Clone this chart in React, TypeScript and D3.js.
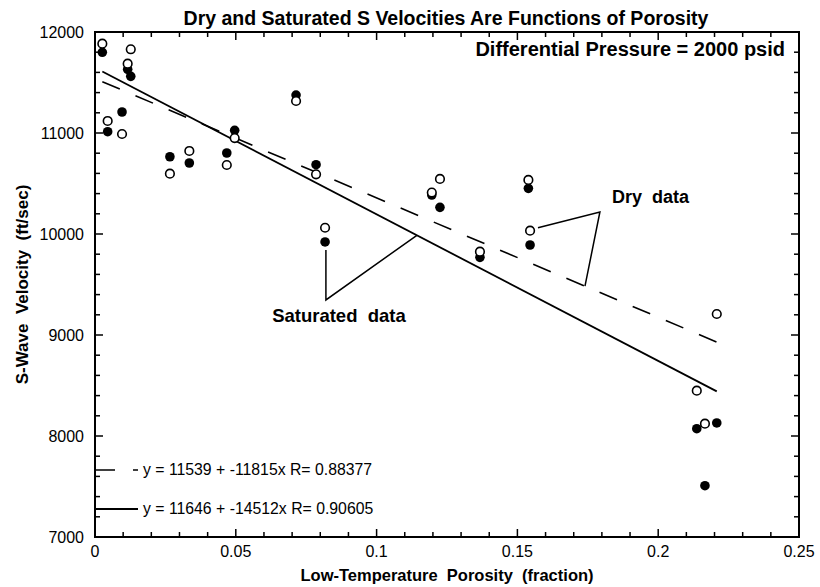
import React from 'react';
import * as d3 from 'd3';

// ---- Data ----
const porosity = [0.0026, 0.0127, 0.0116, 0.0096, 0.0045, 0.0266, 0.0335, 0.0468, 0.0496, 0.0714, 0.0785, 0.0817, 0.1196, 0.1225, 0.1367, 0.1539, 0.1545, 0.2208, 0.2137, 0.2166];
const dryVelocity = [11884, 11829, 11686, 10990, 11119, 10597, 10822, 10683, 10950, 11317, 10591, 10062, 10410, 10545, 9825, 10535, 10033, 9208, 8449, 8122];
const satVelocity = [11799, 11561, 11630, 11208, 11013, 10765, 10703, 10802, 11027, 11376, 10686, 9921, 10386, 10264, 9769, 10452, 9891, 8129, 8072, 7508];

const fitNames = ['dry', 'saturated'];
const fitIntercepts = [11539, 11646];
const fitSlopes = [-11815, -14512];
const fitR = [0.88377, 0.90605];
const fitRange = [0.0026, 0.2208];

const xTickLabels = ['0', '0.05', '0.1', '0.15', '0.2', '0.25'];
const xMajorTicks = [0, 0.05, 0.1, 0.15, 0.2, 0.25];
const yMajorTicks = [7000, 8000, 9000, 10000, 11000, 12000];

const title = 'Dry and Saturated S Velocities Are Functions of Porosity';
const subtitle = 'Differential Pressure = 2000 psid';
const xLabel = 'Low-Temperature  Porosity  (fraction)';
const yLabel = 'S-Wave  Velocity  (ft/sec)';

// annotation leader points (data space); last point lies on fit line
const dryLeader = [[0.1573, 10062], [0.1793, 10218], [0.174, null]];
const satLeader = [[0.0820, 9842], [0.0820, 9347], [0.1143, null]];
const dryText = { label: 'Dry  data', x: 0.1836, y: 10307 };
const satText = { label: 'Saturated  data', x: 0.0629, y: 9129 };

const W = 820, H = 587;
const M = { left: 95, right: 21, top: 32, bottom: 50 };
const FONT = '"Liberation Sans", Arial, Helvetica, sans-serif';

export default function App() {
  const x = d3.scaleLinear().domain([0, 0.25]).range([M.left, W - M.right]);
  const y = d3.scaleLinear().domain([7000, 12000]).range([H - M.bottom, M.top]);
  const x0 = x.range()[0], x1 = x.range()[1];
  const y0 = y.range()[0], y1 = y.range()[1];

  const xMinor = d3.range(0, 0.2501, 0.01).filter(v => !xMajorTicks.some(m => Math.abs(m - v) < 1e-6));
  const yMinor = d3.range(7000, 12001, 200).filter(v => v % 1000 !== 0);
  const MAJ = 8, MIN = 5;

  const fitLine = (i: number) => {
    const line = d3.line<number>().x(d => x(d)).y(d => y(fitIntercepts[i] + fitSlopes[i] * d));
    return line(fitRange) as string;
  };
  const leaderPath = (pts: any[], i: number) => {
    const p = pts.map(([px, py]) => [x(px), y(py === null ? fitIntercepts[i] + fitSlopes[i] * px : py)] as [number, number]);
    return d3.line()(p) as string;
  };
  const dash = '19 17';
  const fmtEq = (i: number) => `y = ${fitIntercepts[i]} + ${fitSlopes[i]}x R= ${fitR[i]}`;
  const pre = { whiteSpace: 'pre' as const };

  return (
    <svg width={W} height={H} style={{ position: 'absolute', left: 0, top: 0, background: '#fff' }} fontFamily={FONT}>
      <rect x={0} y={0} width={W} height={H} fill="#fff" />
      {/* title */}
      <text x={(x0 + x1) / 2 - 1} y={25} textAnchor="middle" fontWeight="bold" fontSize={19.5}>{title}</text>
      <text x={785} y={56} textAnchor="end" fontWeight="bold" fontSize={20}>{subtitle}</text>

      {/* frame */}
      <rect x={x0} y={y1} width={x1 - x0} height={y0 - y1} fill="none" stroke="#000" strokeWidth={2} />

      {/* x ticks bottom & top */}
      {xMajorTicks.map(v => (
        <g key={'xM' + v}>
          <line x1={x(v)} x2={x(v)} y1={y0} y2={y0 - MAJ} stroke="#000" strokeWidth={1.5} />
          <line x1={x(v)} x2={x(v)} y1={y1} y2={y1 + MAJ} stroke="#000" strokeWidth={1.5} />
        </g>
      ))}
      {xMinor.map(v => (
        <g key={'xm' + v}>
          <line x1={x(v)} x2={x(v)} y1={y0} y2={y0 - MIN} stroke="#000" strokeWidth={1.5} />
          <line x1={x(v)} x2={x(v)} y1={y1} y2={y1 + MIN} stroke="#000" strokeWidth={1.5} />
        </g>
      ))}
      {/* y ticks left & right */}
      {yMajorTicks.map(v => (
        <g key={'yM' + v}>
          <line x1={x0} x2={x0 + MAJ} y1={y(v)} y2={y(v)} stroke="#000" strokeWidth={1.5} />
          <line x1={x1} x2={x1 - MAJ} y1={y(v)} y2={y(v)} stroke="#000" strokeWidth={1.5} />
        </g>
      ))}
      {yMinor.map(v => (
        <g key={'ym' + v}>
          <line x1={x0} x2={x0 + MIN} y1={y(v)} y2={y(v)} stroke="#000" strokeWidth={1.5} />
          <line x1={x1} x2={x1 - MIN} y1={y(v)} y2={y(v)} stroke="#000" strokeWidth={1.5} />
        </g>
      ))}

      {/* tick labels */}
      {xMajorTicks.map((v, i) => (
        <text key={'xl' + v} x={x(v)} y={557} textAnchor="middle" fontSize={16}>{xTickLabels[i]}</text>
      ))}
      {yMajorTicks.map(v => (
        <text key={'yl' + v} x={84} y={y(v) + 6} textAnchor="end" fontSize={16}>{v}</text>
      ))}

      {/* axis labels */}
      <text x={(x0 + x1) / 2} y={581} textAnchor="middle" fontWeight="bold" fontSize={16.5} style={pre}>{xLabel}</text>
      <text transform={`translate(28,${(y0 + y1) / 2}) rotate(-90)`} textAnchor="middle" fontWeight="bold" fontSize={17} style={pre}>{yLabel}</text>

      {/* fit lines */}
      <path d={fitLine(0)} fill="none" stroke="#000" strokeWidth={1.6} strokeDasharray={dash} />
      <path d={fitLine(1)} fill="none" stroke="#000" strokeWidth={1.8} />

      {/* points */}
      {porosity.map((p, i) => (
        <circle key={'s' + i} cx={x(p)} cy={y(satVelocity[i])} r={4.8} fill="#000" />
      ))}
      {porosity.map((p, i) => (
        <circle key={'d' + i} cx={x(p)} cy={y(dryVelocity[i])} r={4.3} fill="#fff" stroke="#000" strokeWidth={1.6} />
      ))}

      {/* annotations */}
      <path d={leaderPath(dryLeader, 0)} fill="none" stroke="#000" strokeWidth={1.5} />
      <path d={leaderPath(satLeader, 1)} fill="none" stroke="#000" strokeWidth={1.5} />
      <text x={x(dryText.x)} y={y(dryText.y)} fontWeight="bold" fontSize={18} style={pre}>{dryText.label}</text>
      <text x={x(satText.x)} y={y(satText.y)} fontWeight="bold" fontSize={18.5} style={pre}>{satText.label}</text>

      {/* legend */}
      <line x1={x0} x2={x0 + 43} y1={y0 - 67} y2={y0 - 67} stroke="#000" strokeWidth={1.6} strokeDasharray="20 18" />
      <text x={x0 + 48} y={y0 - 62} fontSize={15.8}>{fmtEq(0)}</text>
      <line x1={x0} x2={x0 + 43} y1={y0 - 28} y2={y0 - 28} stroke="#000" strokeWidth={1.8} />
      <text x={x0 + 48} y={y0 - 23} fontSize={15.8}>{fmtEq(1)}</text>
    </svg>
  );
}
